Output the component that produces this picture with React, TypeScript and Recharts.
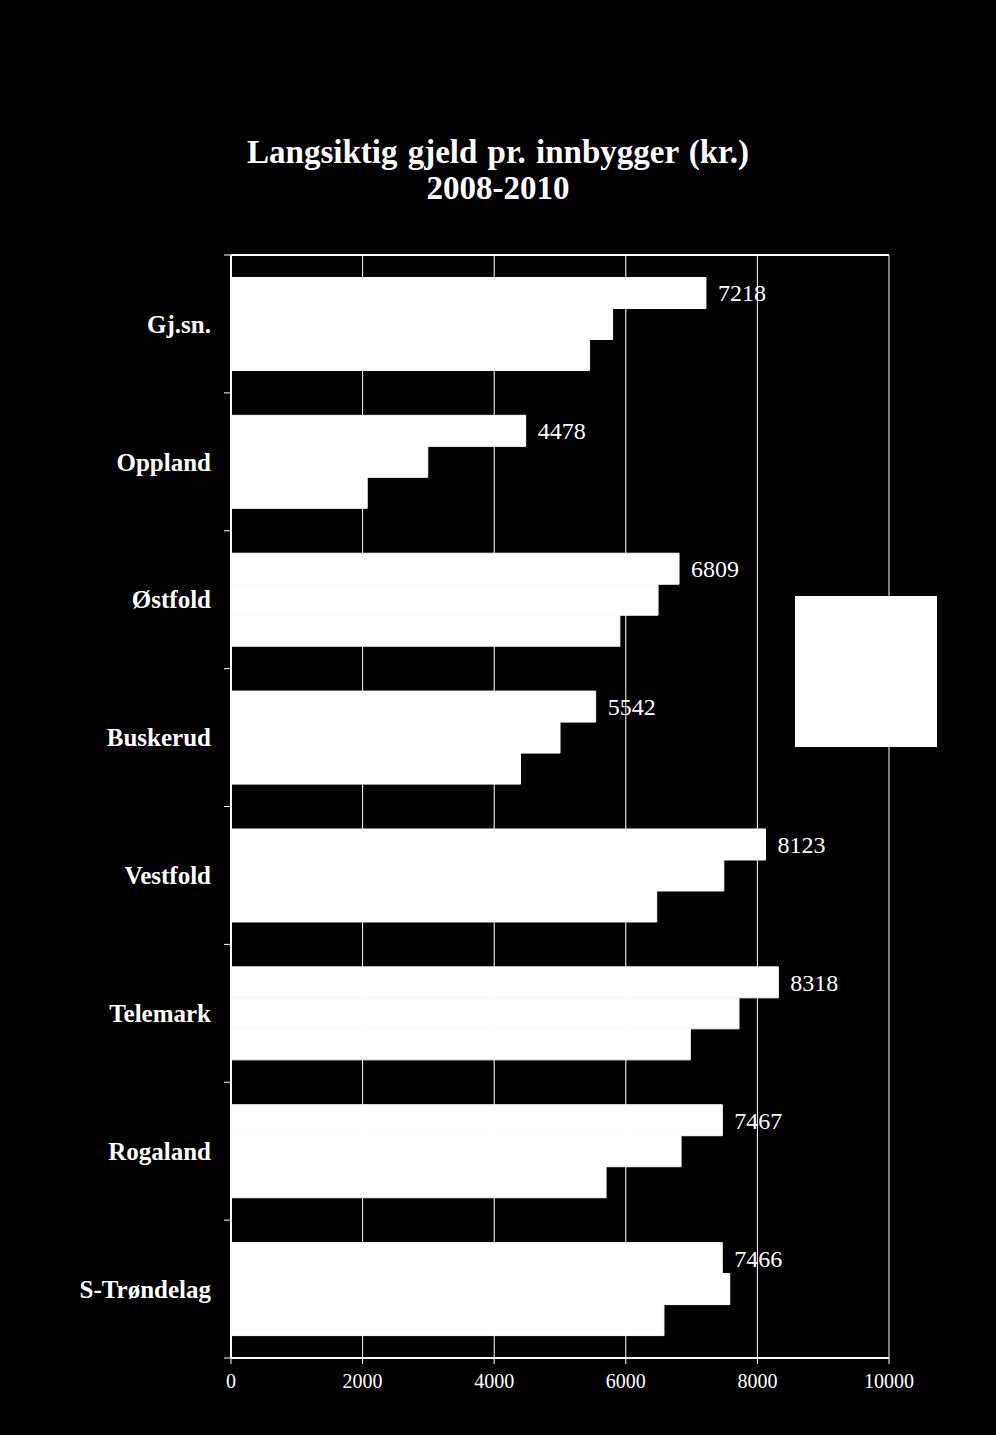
import { BarChart, Bar, XAxis, YAxis, CartesianGrid, LabelList } from 'recharts';

const regions = ['Gj.sn.', 'Oppland', 'Østfold', 'Buskerud', 'Vestfold', 'Telemark', 'Rogaland', 'S-Trøndelag'];
const seriesNames = ['2010', '2009', '2008'];
const y2010 = [7218, 4478, 6809, 5542, 8123, 8318, 7467, 7466];
const y2009 = [5800, 2990, 6490, 5000, 7490, 7720, 6840, 7580];
const y2008 = [5450, 2070, 5910, 4400, 6470, 6980, 5700, 6580];
const xTicks = [0, 2000, 4000, 6000, 8000, 10000];

const data = regions.map((name, i) => ({
  name,
  y2010: y2010[i],
  y2009: y2009[i],
  y2008: y2008[i],
}));

const serif = '"Liberation Serif", "Times New Roman", serif';

function RegionTick(props: any) {
  const { x, y, payload, index } = props;
  const half = payload?.offset ?? 69;
  const axisX = x + 20;
  return (
    <g>
      <line x1={axisX - 7} x2={axisX} y1={y - half} y2={y - half} stroke="#fff" strokeWidth={1} />
      {index === regions.length - 1 && (
        <line x1={axisX - 7} x2={axisX} y1={y + half} y2={y + half} stroke="#fff" strokeWidth={1} />
      )}
      <text x={x} y={y} dy="0.35em" textAnchor="end" fill="#fff" fontFamily={serif} fontWeight="bold" fontSize={25}>
        {payload.value}
      </text>
    </g>
  );
}

export default function App() {
  return (
    <div style={{ position: 'absolute', left: 0, top: 0, width: 996, height: 1435, background: '#000' }}>
      <div
        style={{
          position: 'absolute',
          top: 134,
          left: 0,
          width: 996,
          textAlign: 'center',
          color: '#fff',
          fontFamily: serif,
          fontWeight: 'bold',
          fontSize: 33,
          lineHeight: '36px',
          wordSpacing: 2,
        }}
      >
        Langsiktig gjeld pr. innbygger (kr.)
        <br />
        2008-2010
      </div>
      <BarChart
        width={996}
        height={1435}
        data={data}
        layout="vertical"
        margin={{ top: 254, right: 107, bottom: 0, left: 0 }}
        barCategoryGap="16.3%"
        barGap={0}
      >
        <CartesianGrid horizontal={false} stroke="#fff" strokeWidth={1} />
        <XAxis
          type="number"
          domain={[0, 10000]}
          ticks={xTicks}
          interval={0}
          axisLine={{ stroke: '#fff', strokeWidth: 2 }}
          tickLine={{ stroke: '#fff' }}
          tickSize={6}
          tickMargin={10}
          height={77}
          tick={{ fill: '#fff', fontFamily: serif, fontSize: 20 }}
        />
        <XAxis
          xAxisId="top"
          orientation="top"
          type="number"
          domain={[0, 10000]}
          height={1}
          tick={false}
          tickLine={false}
          axisLine={{ stroke: '#fff', strokeWidth: 2 }}
        />
        <YAxis
          type="category"
          dataKey="name"
          width={231}
          axisLine={{ stroke: '#fff', strokeWidth: 2 }}
          tickLine={false}
          tickSize={0}
          tickMargin={20}
          interval={0}
          tick={<RegionTick />}
        />
        <Bar dataKey="y2010" name={seriesNames[0]} fill="#fff" stroke="#fff" strokeWidth={1} isAnimationActive={false}>
          <LabelList
            dataKey="y2010"
            position="right"
            offset={12}
            fill="#fff"
            fontFamily={serif}
            fontSize={24}
          />
        </Bar>
        <Bar dataKey="y2009" name={seriesNames[1]} fill="#fff" stroke="#fff" strokeWidth={1} isAnimationActive={false} />
        <Bar dataKey="y2008" name={seriesNames[2]} fill="#fff" stroke="#fff" strokeWidth={1} isAnimationActive={false} />
      </BarChart>
      {/* legend box: blank white in the original */}
      <div
        style={{
          position: 'absolute',
          left: 795,
          top: 596,
          width: 142,
          height: 151,
          background: '#fff',
          color: '#fff',
          fontFamily: serif,
          boxSizing: 'border-box',
          padding: 40,
        }}
      >
        {seriesNames.map((s) => (
          <div key={s}>{s}</div>
        ))}
      </div>
    </div>
  );
}
